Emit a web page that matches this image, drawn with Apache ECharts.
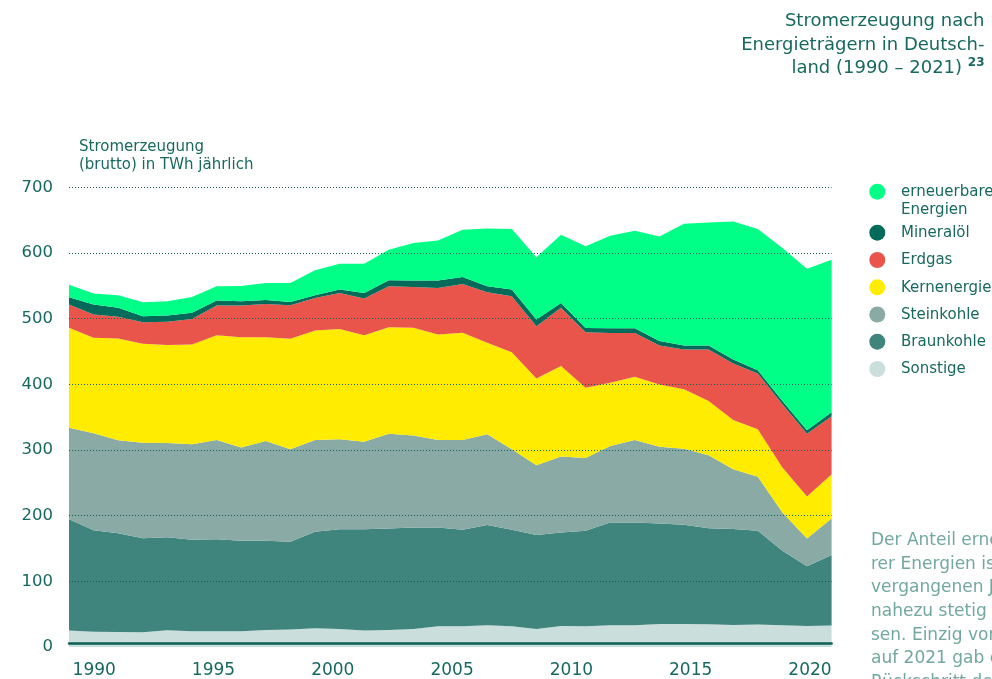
<!DOCTYPE html>
<html lang="de">
<head>
<meta charset="utf-8">
<title>Stromerzeugung nach Energieträgern in Deutschland (1990 – 2021)</title>
<script src="https://cdn.jsdelivr.net/npm/echarts@6/dist/echarts.min.js"></script>
<style>
  html, body { margin: 0; padding: 0; background: #ffffff; }
  #chart { width: 992px; height: 679px; }
</style>
</head>
<body>
<div id="chart"></div>
<script>
// Jahre (Kategorien der x-Achse)
const years = ['1990','1991','1992','1993','1994','1995','1996','1997','1998','1999',
               '2000','2001','2002','2003','2004','2005','2006','2007','2008','2009',
               '2010','2011','2012','2013','2014','2015','2016','2017','2018','2019',
               '2020','2021'];

// Bruttostromerzeugung je Energieträger in TWh
const sonstige = [25.0, 23.4, 22.9, 22.4, 25.5, 23.9, 23.9, 23.9, 25.9, 26.5,
                  28.5, 27.5, 25.0, 26.0, 27.5, 31.5, 31.5, 33.0, 31.5, 27.5,
                  32.0, 31.5, 33.0, 33.0, 35.1, 35.1, 34.6, 33.6, 34.1, 33.0,
                  32.0, 32.6];
const braunkohle = [169.6, 154.5, 150.4, 143.3, 141.8, 139.3, 140.3, 137.8, 135.8, 133.6,
                    146.9, 151.9, 154.4, 154.4, 154.4, 150.4, 147.0, 152.6, 147.0, 142.9,
                    142.4, 145.4, 156.6, 156.6, 153.0, 151.0, 146.4, 145.9, 142.8, 113.6,
                    90.8, 107.4];
const steinkohle = [139.3, 147.4, 141.4, 145.4, 143.3, 145.4, 151.0, 141.9, 152.0, 141.2,
                    139.8, 136.8, 133.3, 144.4, 140.3, 133.3, 136.7, 138.2, 122.5, 106.3,
                    115.5, 111.0, 116.5, 125.6, 117.0, 115.9, 110.9, 91.1, 82.5, 58.1,
                    42.4, 55.6];
const kernenergie = [152.1, 145.5, 155.1, 150.6, 149.1, 152.1, 159.7, 168.2, 158.1, 168.0,
                     166.7, 168.2, 162.2, 162.2, 163.8, 160.7, 163.2, 139.4, 148.0, 132.3,
                     137.8, 106.9, 96.3, 96.3, 94.8, 90.3, 82.7, 75.1, 72.1, 68.5,
                     63.9, 67.5];
const erdgas = [35.4, 35.4, 32.9, 32.9, 35.4, 38.9, 45.0, 48.1, 50.6, 51.1,
                49.6, 54.7, 55.6, 62.3, 62.3, 70.9, 74.4, 76.9, 85.1, 79.5,
                88.7, 84.5, 75.9, 66.8, 59.2, 60.8, 78.5, 86.0, 85.0, 96.3,
                95.8, 88.4];
const mineraloel = [11.1, 15.2, 13.7, 9.1, 9.6, 9.2, 7.6, 6.6, 6.1, 5.1,
                    4.1, 5.1, 8.6, 9.1, 9.6, 11.1, 10.7, 9.2, 10.1, 10.1,
                    7.6, 6.6, 7.1, 7.1, 6.7, 6.1, 6.1, 6.0, 5.0, 5.0,
                    5.0, 6.1];
const erneuerbare = [19.3, 16.7, 19.2, 21.3, 21.8, 24.3, 21.8, 23.3, 25.9, 28.9,
                     38.0, 39.5, 44.6, 46.6, 57.2, 61.2, 71.9, 88.1, 92.2, 94.8,
                     103.8, 124.2, 140.9, 148.4, 159.4, 185.2, 187.2, 210.2, 214.9, 233.0,
                     246.2, 232.2];

// Beschriftete Jahre der x-Achse
const xLabelYears = [1990, 1995, 2000, 2005, 2010, 2015, 2020];

// Stapelreihenfolge von unten nach oben
const layers = [
  { name: 'Sonstige',             data: sonstige,    color: '#cadfdc' },
  { name: 'Braunkohle',           data: braunkohle,  color: '#3f847d' },
  { name: 'Steinkohle',           data: steinkohle,  color: '#89aaa5' },
  { name: 'Kernenergie',          data: kernenergie, color: '#ffec00' },
  { name: 'Erdgas',               data: erdgas,      color: '#ea554b' },
  { name: 'Mineralöl',            data: mineraloel,  color: '#046a5a' },
  { name: 'erneuerbare Energien', data: erneuerbare, color: '#00ff87' }
];

const FONT = '"DejaVu Sans", sans-serif';
const TEAL = '#17695f';
const TEXT_LIGHT = '#72a8a0';

const chart = echarts.init(document.getElementById('chart'), null, { renderer: 'canvas' });

// Legende: von oben nach unten in umgekehrter Stapelreihenfolge
const legendY = [191.7, 232.7, 260.0, 287.3, 314.5, 341.7, 369.0];
const legendGraphics = [];
layers.slice().reverse().forEach((layer, i) => {
  const cy = legendY[i];
  const label = layer.name === 'erneuerbare Energien' ? 'erneuerbare\nEnergien' : layer.name;
  legendGraphics.push({
    type: 'circle', silent: true,
    shape: { cx: 877.3, cy: cy, r: 8 },
    style: { fill: layer.color }
  });
  legendGraphics.push({
    type: 'text', silent: true,
    x: 901, y: cy - 8.5,
    style: {
      text: label, fill: TEAL, fontFamily: FONT, fontSize: 15,
      lineHeight: 18, align: 'left', verticalAlign: 'top'
    }
  });
});

const paragraph = [
  'Der Anteil erneuerba-',
  'rer Energien ist in den',
  'vergangenen Jahren',
  'nahezu stetig gewach-',
  'sen. Einzig von 2020',
  'auf 2021 gab es einen',
  'Rückschritt der erneu-'
].join('\n');

const option = {
  animation: false,
  backgroundColor: '#ffffff',
  grid: { left: 69, right: 160.4, top: 187.3, bottom: 30.9, containLabel: false },
  xAxis: [
    {
      type: 'category',
      data: years,
      boundaryGap: false,
      position: 'bottom',
      offset: -3.5,
      z: 6,
      axisLine: { show: true, lineStyle: { color: '#0b5f53', width: 2.5 } },
      axisTick: { show: false },
      axisLabel: { show: false },
      splitLine: { show: false }
    },
    {
      type: 'value',
      position: 'bottom',
      min: 1988.944,
      max: 2020.906,
      axisLine: { show: false },
      axisTick: { show: false },
      splitLine: { show: false },
      axisLabel: {
        customValues: xLabelYears,
        formatter: (v) => String(v),
        color: TEAL, fontFamily: FONT, fontSize: 17, margin: 15
      }
    }
  ],
  yAxis: {
    type: 'value',
    min: 0, max: 700, interval: 100,
    z: 5,
    name: 'Stromerzeugung\n(brutto) in TWh jährlich',
    nameLocation: 'end',
    nameGap: 13,
    nameTextStyle: {
      color: TEAL, fontFamily: FONT, fontSize: 15, lineHeight: 18,
      align: 'left', padding: [0, 0, 0, 10]
    },
    axisLine: { show: false },
    axisTick: { show: false },
    axisLabel: { color: TEAL, fontFamily: FONT, fontSize: 16.5, margin: 16, padding: [0, 0, 3, 0] },
    splitLine: {
      show: true,
      showMinLine: false,
      lineStyle: { color: '#0e5c52', width: 1, type: [1, 2] }
    }
  },
  series: layers.map((layer) => ({
    name: layer.name,
    type: 'line',
    stack: 'gesamt',
    data: layer.data,
    symbol: 'none',
    smooth: false,
    lineStyle: { width: 0 },
    areaStyle: { color: layer.color, opacity: 1 },
    itemStyle: { color: layer.color },
    z: 2
  })),
  graphic: [
    {
      type: 'text', silent: true,
      x: 984.5, y: 10,
      style: {
        text: 'Stromerzeugung nach\nEnergieträgern in Deutsch-\nland (1990 – 2021) {sup|23}',
        fill: TEAL, fontFamily: FONT, fontSize: 18, lineHeight: 23.5,
        align: 'right', verticalAlign: 'top',
        rich: {
          sup: { fill: TEAL, fontFamily: FONT, fontSize: 12, fontWeight: 'bold',
                 verticalAlign: 'top', lineHeight: 14, padding: [0, 0, 6, 0] }
        }
      }
    },
    {
      type: 'text', silent: true,
      x: 871, y: 529,
      style: {
        text: paragraph, fill: TEXT_LIGHT, fontFamily: FONT, fontSize: 17,
        lineHeight: 23.6, align: 'left', verticalAlign: 'top'
      }
    }
  ].concat(legendGraphics)
};

chart.setOption(option);
</script>
</body>
</html>
